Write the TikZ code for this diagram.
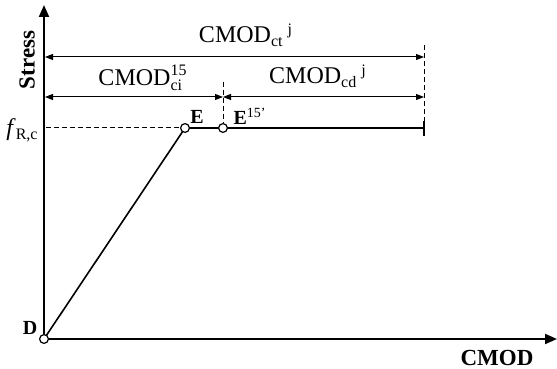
\documentclass[tikz,border=0pt]{standalone}
\usepackage{amsmath}
\usepackage{fontspec}
\setmainfont{Liberation Serif}
\usetikzlibrary{arrows.meta}

\begin{document}
\begin{tikzpicture}[x=0.5pt, y=-0.5pt,
    axis/.style={line width=1pt, -{Triangle[length=6pt, width=5pt]}},
    dim/.style={line width=0.5pt, {Triangle[length=4pt, width=3pt]}-{Triangle[length=4pt, width=3pt]}},
    guide/.style={line width=0.5pt, dashed, dash pattern=on 2.5pt off 1.5pt},
    pt/.style={circle, draw, fill=white, line width=0.6pt, inner sep=0pt, minimum size=4.4pt},
    lbl/.style={font=\fontsize{12}{14}\selectfont, inner sep=0pt},
    blbl/.style={font=\fontsize{11.5}{13}\selectfont\bfseries, inner sep=0pt},
    sblbl/.style={font=\fontsize{10}{12}\selectfont\bfseries, inner sep=0pt}
]
  \useasboundingbox (0,0) rectangle (557,369);
  % axes
  \coordinate (D) at (44,339);
  \coordinate (ytop) at (44,5);
  \coordinate (xend) at (557,339);
  \draw[axis] (D) -- (ytop);
  \draw[axis] (D) -- (xend);
  % curve points
  \coordinate (fR) at (46,128);
  \coordinate (J) at (424,128);
  \draw[guide] (fR) -- (185,128);
  \draw[line width=0.8pt] (D) -- (185,128) -- (J);
  \draw[line width=1pt] (424,121) -- (424,136);
  \node[pt] (Dpt) at (D) {};
  \node[pt] (E) at (185,128) {};
  \node[pt] (E15) at (223,128) {};
  % dimension lines
  \coordinate (a1) at (45,57);
  \coordinate (a2) at (424,57);
  \coordinate (b1) at (45,97);
  \coordinate (b2) at (223,97);
  \coordinate (b3) at (424,97);
  \draw[guide] (424,45) -- (J);
  \draw[guide] (223,82) -- (E15);
  \draw[dim] (a1) -- (a2);
  \draw[dim] (b1) -- (b2);
  \draw[dim] (b2) -- (b3);
  % labels
  \node[lbl] (ct) at (246,35) {CMOD\textsubscript{ct}\,\textsuperscript{j}};
  \node[lbl] (ci) at (143,78) {$\mathrm{CMOD}^{\text{15}}_{\text{ci}}$};
  \node[lbl] (cd) at (318,76) {CMOD\textsubscript{cd}\,\textsuperscript{j}};
  \node[lbl, anchor=east] (fRlbl) at (39,130) {\textit{f}\textsubscript{R,c}};
  \node[sblbl] (Elbl) at (197,117) {E};
  \node[sblbl] (E15lbl) at (250,116) {E\textsuperscript{\mdseries 15’}};
  \node[sblbl] (Dlbl) at (30,328) {D};
  \node[blbl, rotate=90] (stress) at (27,60) {Stress};
  \node[blbl] (cmod) at (497,358) {CMOD};
\end{tikzpicture}
\end{document}
